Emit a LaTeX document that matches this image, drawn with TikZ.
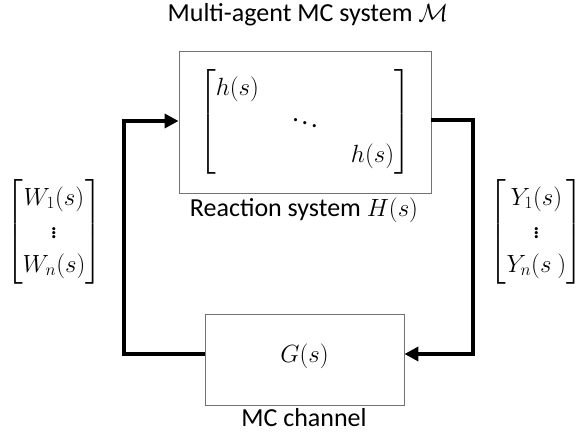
\documentclass[tikz,border=0pt]{standalone}
\usepackage{amsmath}
\usepackage{fontspec}
\setmainfont{Carlito}
\usetikzlibrary{arrows.meta}
\begin{document}
\begin{tikzpicture}[x=1pt,y=-1pt,
  block/.style={draw=black!55, line width=0.9pt, fill=white},
  wire/.style={line width=4.6pt, line join=miter, -{Triangle[length=14pt,width=14pt]}},
  lbl/.style={font=\fontsize{26}{31}\selectfont, inner sep=0pt, anchor=base},
  mat/.style={font=\fontsize{26}{31}\selectfont\renewcommand{\arraystretch}{1.08}, inner sep=0pt}
]
\useasboundingbox (0,0) rectangle (584,443);

% blocks
\node[block, minimum width=252pt, minimum height=142pt] (H) at (305,122) {};
\node[block, minimum width=199pt, minimum height=91pt] (G) at (304.5,359.5) {};
\node[lbl] (Gs) at (G.center |- 0,363) {$G(s)$};

% diagonal reaction matrix inside H
\node[mat] (Hm) at (305,122) {$\arraycolsep=16pt\begin{bmatrix} h(s) & & \\ & \ddots & \\ & & h(s)\end{bmatrix}$};

% labels
\node[lbl] (title) at (308,22) {Multi-agent MC system $\mathcal{M}$};
\node[lbl] (hlab) at (304,217) {Reaction system $H(s)$};
\node[lbl] (glab) at (304,427) {MC channel};

% signal vectors
\node[mat] (W) at (54,232) {$\begin{bmatrix} W_1(s)\\ \vdots \\ W_n(s)\end{bmatrix}$};
\node[mat, anchor=east] (Y) at (583,232) {$\begin{bmatrix} Y_1(s)\\ \vdots \\ Y_n(s\ )\end{bmatrix}$};

% feedback wiring
\coordinate (lt) at (124,121);
\coordinate (lb) at (124,354);
\coordinate (rt) at (473,120);
\coordinate (rb) at (473,354);
\draw[wire] (G.west |- lb) -- (lb) -- (lt) -- (H.west |- lt);
\draw[wire] (H.east |- rt) -- (rt) -- (rb) -- (G.east |- rb);
\end{tikzpicture}
\end{document}
